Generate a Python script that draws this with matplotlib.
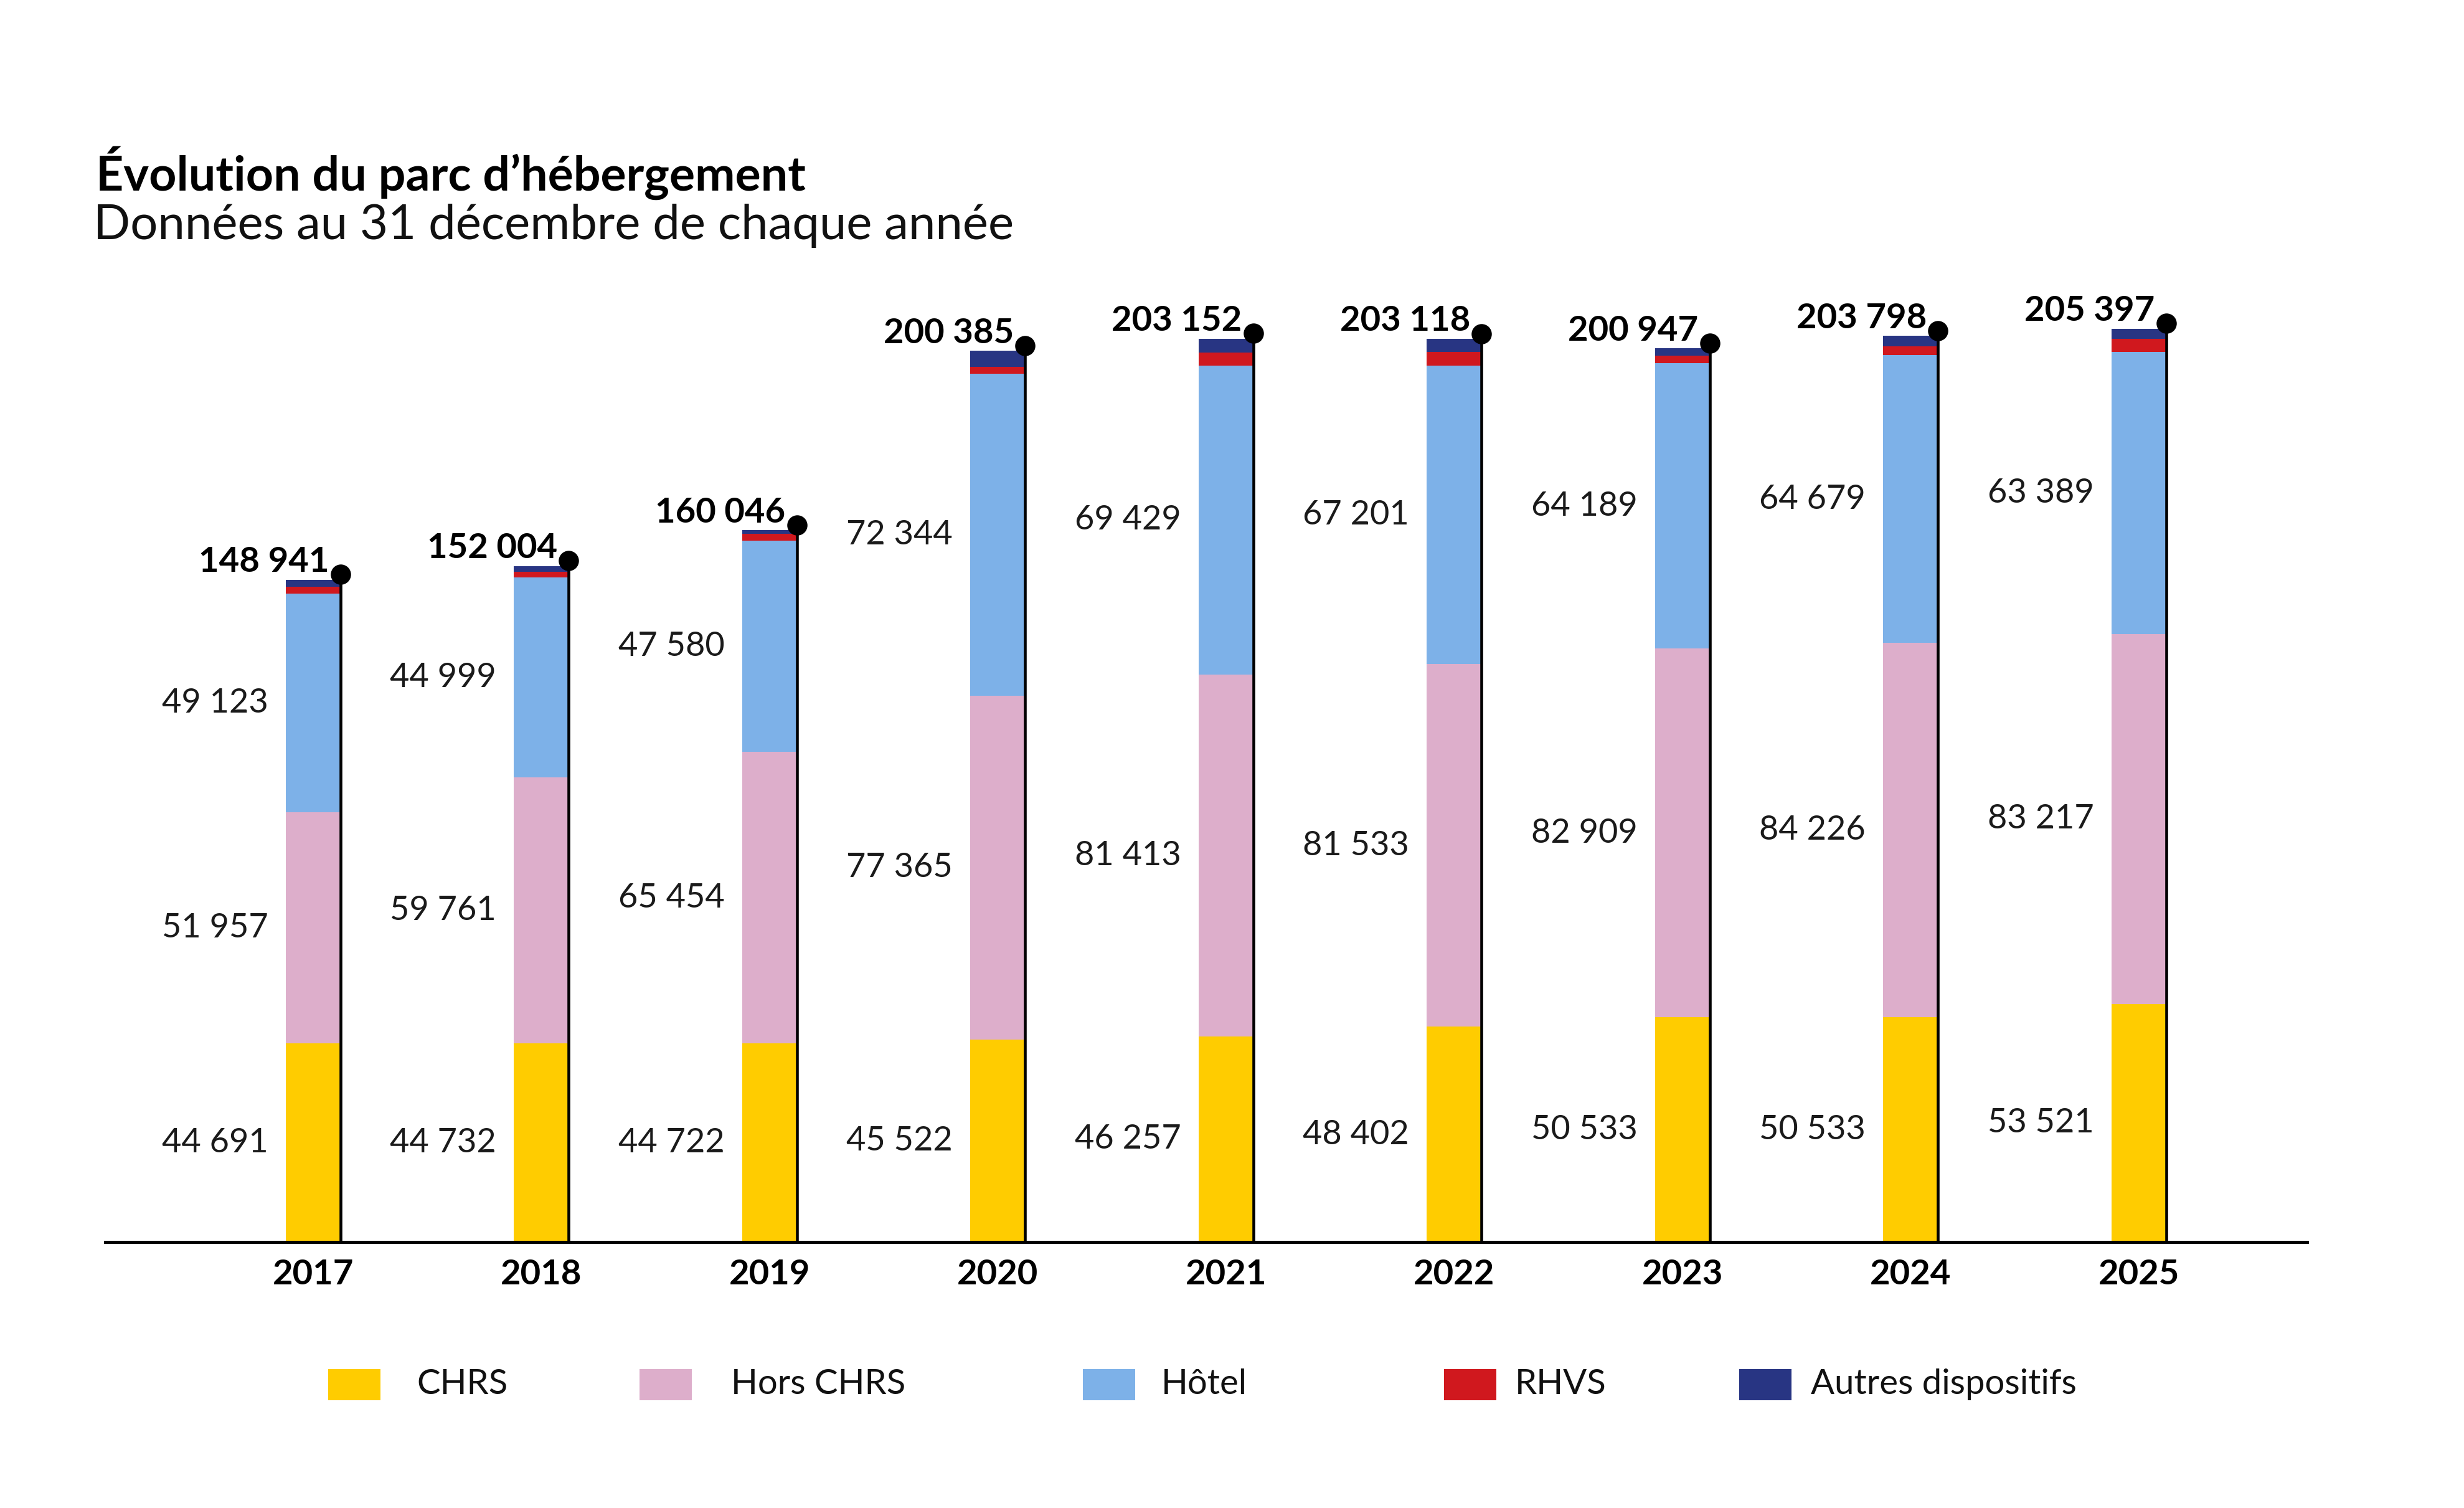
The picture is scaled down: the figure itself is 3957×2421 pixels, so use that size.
import matplotlib
matplotlib.use("Agg")
import matplotlib.pyplot as plt
from matplotlib.patches import Rectangle
from matplotlib.transforms import offset_copy
import numpy as np

plt.rcParams['font.family'] = ['Lato', 'DejaVu Sans']

years = ["2017", "2018", "2019", "2020", "2021", "2022", "2023", "2024", "2025"]
chrs = [44691, 44732, 44722, 45522, 46257, 48402, 50533, 50533, 53521]
hors_chrs = [51957, 59761, 65454, 77365, 81413, 81533, 82909, 84226, 83217]
hotel = [49123, 44999, 47580, 72344, 69429, 67201, 64189, 64679, 63389]
rhvs = [1620, 1262, 1480, 1554, 2903, 3062, 1656, 1920, 3010]
autres = [1550, 1250, 810, 3600, 3150, 2920, 1660, 2440, 2260]
totals = [148941, 152004, 160046, 200385, 203152, 203118, 200947, 203798, 205397]

series_names = ["CHRS", "Hors CHRS", "Hôtel", "RHVS", "Autres dispositifs"]
colors = ["#FFCC00", "#DDAECB", "#7DB1E8", "#D0181E", "#283583"]

def fmt(v):
    return f"{v:,}".replace(",", " ")

W, H, DPI = 3957, 2421, 300
fig = plt.figure(figsize=(W / DPI, H / DPI), dpi=DPI)
ax = fig.add_axes([169 / W, 1 - 1994 / H, (3705 - 169) / W, 1642 / H])

x = np.arange(len(years))
bw = 0.24
data = [chrs, hors_chrs, hotel, rhvs, autres]
bottom = np.zeros(len(years))
for vals, c in zip(data, colors):
    ax.bar(x, vals, bw, bottom=bottom, color=c, linewidth=0, align='center')
    bottom += np.array(vals)

# labelled segments
bottom = np.zeros(len(years))
for vals in data[:3]:
    v = np.array(vals)
    for i in range(len(years)):
        ax.text(x[i] - 0.43, bottom[i] + v[i] / 2, fmt(vals[i]), ha='center', va='center',
                fontsize=13, fontweight='normal', color='#1a1a1a')
    bottom += v

# right-edge line, dot and totals
dot_tr = offset_copy(ax.transData, fig=fig, x=0, y=2, units='points')
txt_tr = offset_copy(ax.transData, fig=fig, x=0, y=3, units='points')
for i in range(len(years)):
    xr = x[i] + bw / 2
    ax.plot([xr, xr], [0, totals[i]], color='black', lw=1.1, solid_capstyle='butt', zorder=4)
    ax.plot([xr], [totals[i]], 'o', color='black', ms=6.8, transform=dot_tr, zorder=5)
    ax.text(xr - 0.05, totals[i], fmt(totals[i]), ha='right', va='baseline',
            fontsize=13.5, fontweight='bold', transform=txt_tr)

ax.set_xlim(-0.911, 8.737)
ax.set_ylim(0, 230000)
ax.set_xticks(x)
ax.set_xticklabels(years, fontsize=13.5, fontweight='bold')
ax.tick_params(axis='x', length=0, pad=6.5)
ax.set_yticks([])
for s in ['top', 'right', 'left']:
    ax.spines[s].set_visible(False)
ax.spines['bottom'].set_linewidth(1.2)
ax.spines['bottom'].set_zorder(6)

fig.text(154 / W, 1 - 278 / H, "Évolution du parc d’hébergement", fontsize=18.5, fontweight='bold',
         ha='left', va='center')
fig.text(150 / W, 1 - 363 / H, "Données au 31 décembre de chaque année", fontsize=18.7,
         fontweight='normal', ha='left', va='center', color='#111111')

# legend
sw_x = [527, 1027, 1739, 2319, 2793]
tx_x = [669, 1174, 1865, 2433, 2908]
ly = 2223
for name, c, sx, tx in zip(series_names, colors, sw_x, tx_x):
    fig.patches.append(Rectangle((sx / W, 1 - (ly + 25) / H), 84 / W, 50 / H,
                                 transform=fig.transFigure, color=c, linewidth=0))
    fig.text(tx / W, 1 - ly / H, name, fontsize=13.5, fontweight='normal', ha='left', va='center',
             color='#111111')

fig.savefig("out.png", dpi=DPI, facecolor='white')
